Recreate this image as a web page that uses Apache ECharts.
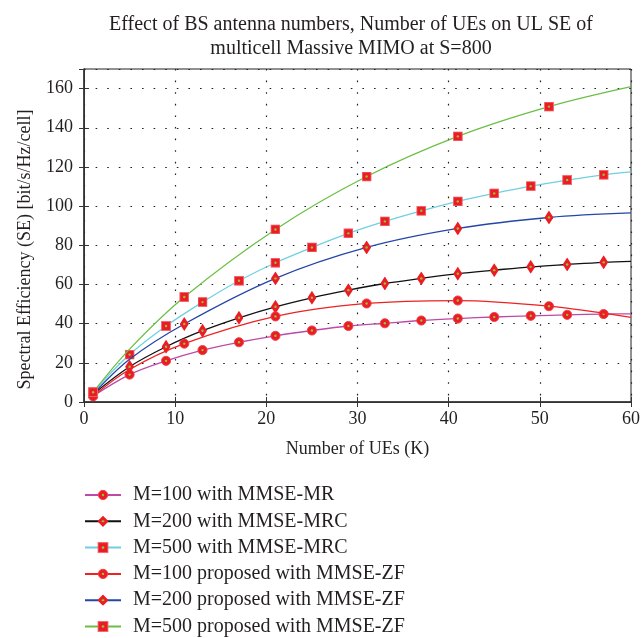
<!DOCTYPE html>
<html>
<head>
<meta charset="utf-8">
<script src="https://cdn.jsdelivr.net/npm/echarts@6/dist/echarts.min.js"></script>
<style>
html,body{margin:0;padding:0;background:#fff;}
#chart{width:643px;height:638px;}
</style>
</head>
<body>
<div id="chart"></div>
<script>
// ---- data ----
var titleText = 'Effect of BS antenna numbers, Number of UEs on UL SE of\nmulticell Massive MIMO at S=800';
var xName = 'Number of UEs (K)';
var yName = 'Spectral Efficiency (SE) [bit/s/Hz/cell]';
var seriesNames = [
  'M=100 with MMSE-MR',
  'M=200 with MMSE-MRC',
  'M=500 with MMSE-MRC',
  'M=100 proposed with MMSE-ZF',
  'M=200 proposed with MMSE-ZF',
  'M=500 proposed with MMSE-ZF'
];
// K values of the curves
var kMR = [1, 5, 9, 13, 17, 21, 25, 29, 33, 37, 41, 45, 49, 53, 57, 60];
var kZF = [1, 5, 11, 21, 31, 41, 51, 60];
// K values that carry a marker
var markMR = [1, 5, 9, 13, 17, 21, 25, 29, 33, 37, 41, 45, 49, 53, 57];
var markZF = [1, 11, 21, 31, 41, 51];

var seM100MR  = [3.0, 14.0, 21.0, 26.5, 30.5, 33.8, 36.5, 38.8, 40.2, 41.6, 42.6, 43.4, 44.0, 44.5, 44.9, 45.0];
var seM200MRC = [4.0, 18.0, 28.2, 36.4, 43.0, 48.6, 53.2, 57.1, 60.5, 63.1, 65.5, 67.3, 69.0, 70.2, 71.3, 71.8];
var seM500MRC = [5.0, 24.2, 38.8, 51.0, 61.9, 71.1, 78.9, 86.1, 92.2, 97.6, 102.4, 106.5, 110.2, 113.3, 116.0, 117.5];
var seM100ZF  = [3.0, 16.6, 29.8, 43.7, 50.3, 51.8, 48.9, 43.2];
var seM200ZF  = [4.0, 21.8, 39.8, 63.1, 78.9, 88.6, 94.2, 96.5];
var seM500ZF  = [5.0, 27.0, 53.6, 88.1, 115.1, 135.6, 150.8, 161.0];

var xTicks = [0, 10, 20, 30, 40, 50, 60];
var yTicks = [0, 20, 40, 60, 80, 100, 120, 140, 160];

// ---- styling ----
var FONT = '"Liberation Serif", "DejaVu Serif", serif';
var RED = '#ec1c24';
var GREEN_DOT = '#8cc63f';
function svgUri(svg) { return 'image://data:image/svg+xml;charset=utf-8,' + encodeURIComponent(svg); }
var symCircle = svgUri("<svg xmlns='http://www.w3.org/2000/svg' width='24' height='24'><circle cx='12' cy='12' r='10' fill='" + RED + "' stroke='#f04048' stroke-width='2'/><circle cx='12' cy='12' r='2.6' fill='" + GREEN_DOT + "'/></svg>");
var symDiamond = svgUri("<svg xmlns='http://www.w3.org/2000/svg' width='18' height='28'><path d='M9 0 L18 14 L9 28 L0 14 Z' fill='" + RED + "'/><circle cx='9' cy='14' r='2.4' fill='" + GREEN_DOT + "'/></svg>");
var symSquare = svgUri("<svg xmlns='http://www.w3.org/2000/svg' width='20' height='20'><rect x='1' y='1' width='18' height='18' fill='" + RED + "' stroke='#f26a70' stroke-width='2'/><circle cx='10' cy='10' r='2.4' fill='" + GREEN_DOT + "'/></svg>");

var lineColors = ['#bd4aa8', '#111111', '#6fd0e2', '#ee2222', '#2646a6', '#6cbf46'];
var symbols = [symCircle, symDiamond, symSquare, symCircle, symDiamond, symSquare];
var symSizes = [[11, 11], [9, 14], [10, 10], [11, 11], [9, 14], [10, 10]];
var kSets = [kMR, kMR, kMR, kZF, kZF, kZF];
var markSets = [markMR, markMR, markMR, markZF, markZF, markZF];
var values = [seM100MR, seM200MRC, seM500MRC, seM100ZF, seM200ZF, seM500ZF];

var series = seriesNames.map(function (name, i) {
  var data = kSets[i].map(function (k, j) {
    var item = { value: [k, values[i][j]] };
    if (markSets[i].indexOf(k) < 0) item.symbol = 'none';
    return item;
  });
  return {
    name: name,
    type: 'line',
    smooth: 0.35,
    data: data,
    symbol: symbols[i],
    symbolSize: symSizes[i],
    showAllSymbol: true,
    z: 3 + i,
    lineStyle: { color: lineColors[i], width: 1.3 },
    itemStyle: { color: lineColors[i] },
    emphasis: { disabled: true },
    animation: false
  };
});

var gridLine = { show: true, lineStyle: { color: '#222', width: 1.2, type: [1.6, 10] } };

var chart = echarts.init(document.getElementById('chart'), null, { renderer: 'canvas' });
chart.setOption({
  backgroundColor: '#fff',
  animation: false,
  title: {
    text: titleText,
    left: 346,
    top: 8,
    textAlign: 'center',
    textStyle: { fontFamily: FONT, fontSize: 20, fontWeight: 'normal', color: '#231f20', lineHeight: 24 }
  },
  legend: {
    orient: 'vertical',
    left: 84,
    top: 485,
    height: 153,
    padding: 0,
    itemWidth: 36,
    itemHeight: 14,
    itemGap: 6.3,
    data: seriesNames.slice(),
    textStyle: { fontFamily: FONT, fontSize: 20, color: '#231f20', lineHeight: 20, padding: [0, 0, 0, 7] }
  },
  grid: { left: 84, right: 9, top: 69, bottom: 236, show: true, borderColor: '#222', borderWidth: 1 },
  xAxis: [{
    type: 'value', min: xTicks[0], max: xTicks[xTicks.length - 1], interval: 10,
    name: xName, nameLocation: 'middle', nameGap: 38,
    nameTextStyle: { fontFamily: FONT, fontSize: 18, color: '#231f20' },
    axisLine: { lineStyle: { color: '#333', width: 1.5 } },
    axisTick: { inside: true, length: 5, lineStyle: { color: '#333' } },
    axisLabel: { fontFamily: FONT, fontSize: 18, color: '#231f20', margin: 8 },
    splitLine: gridLine
  }, {
    type: 'value', position: 'top', min: xTicks[0], max: xTicks[xTicks.length - 1], interval: 10,
    axisLine: { show: true, lineStyle: { color: '#333', width: 1 } },
    axisTick: { inside: true, length: 5, lineStyle: { color: '#333' } },
    axisLabel: { show: false }, splitLine: { show: false }
  }],
  yAxis: [{
    type: 'value', min: yTicks[0], max: 170, interval: 20,
    name: yName, nameLocation: 'middle', nameGap: 50,
    nameTextStyle: { fontFamily: FONT, fontSize: 18, color: '#231f20', padding: [0, 28, 0, 0] },
    axisLine: { show: true, lineStyle: { color: '#333', width: 1.5 } },
    axisTick: { inside: true, length: 5, lineStyle: { color: '#333' } },
    axisLabel: { fontFamily: FONT, fontSize: 18, color: '#231f20', margin: 11, showMaxLabel: false },
    splitLine: gridLine
  }, {
    type: 'value', position: 'right', min: yTicks[0], max: 170, interval: 20,
    axisLine: { show: true, lineStyle: { color: '#333', width: 1 } },
    axisTick: { inside: true, length: 5, lineStyle: { color: '#333' } },
    axisLabel: { show: false }, splitLine: { show: false }
  }],
  series: series
});
</script>
</body>
</html>
